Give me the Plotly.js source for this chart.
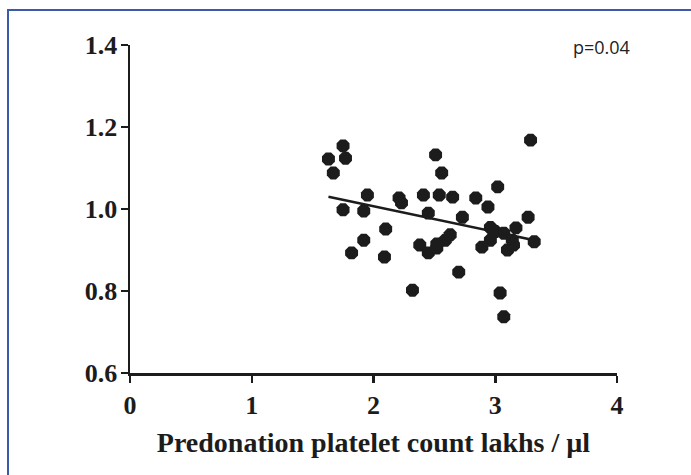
<!DOCTYPE html>
<html>
<head>
<meta charset="utf-8">
<script src="https://cdn.plot.ly/plotly-3.0.1.min.js"></script>
<style>
  body { margin: 0; background: #fff; }
  #wrap { position: relative; width: 691px; height: 475px; }
  #chart { position: absolute; left: 0; top: 0; width: 691px; height: 475px; }
  #frame { position: absolute; left: 7px; top: 9px; width: 684px; height: 466px;
           border-left: 2px solid #3b5ba9; border-top: 2px solid #3b5ba9; pointer-events: none; }
</style>
</head>
<body>
<div id="wrap"><div id="chart"></div><div id="frame"></div></div>
<script>
// Predonation platelet count (lakhs / µl)
var plateletX = [1.63, 1.67, 1.75, 1.77, 1.75, 1.82, 1.92, 1.92, 1.95, 2.09,
                 2.10, 2.21, 2.23, 2.32, 2.38, 2.41, 2.45, 2.45, 2.52, 2.51,
                 2.54, 2.56, 2.59, 2.65, 2.63, 2.70, 2.73, 2.84, 2.89, 2.94,
                 2.96, 3.02, 3.04, 2.96, 3.07, 3.07, 3.10, 3.14, 3.17, 3.15,
                 3.27, 3.29, 3.32, 2.52, 3.00];
var ratioY    = [1.122, 1.088, 1.154, 1.124, 0.998, 0.893, 0.924, 0.995, 1.034, 0.883,
                 0.951, 1.027, 1.015, 0.802, 0.912, 1.034, 0.990, 0.893, 0.915, 1.132,
                 1.034, 1.088, 0.924, 1.029, 0.937, 0.846, 0.980, 1.027, 0.907, 1.005,
                 0.924, 1.054, 0.795, 0.955, 0.941, 0.737, 0.900, 0.924, 0.954, 0.912,
                 0.980, 1.168, 0.920, 0.905, 0.945];
// Regression line end points
var fitX = [1.63, 3.32];
var fitY = [1.030, 0.924];
var xTicks = [0, 1, 2, 3, 4];
var yTicks = [0.6, 0.8, 1.0, 1.2, 1.4];
var yTickText = ["0.6", "0.8", "1.0", "1.2", "1.4"];
var pText = "p=0.04";
var xTitle = "Predonation platelet count lakhs / µl";

var serifBold = "'Liberation Serif', 'Times New Roman', serif";

var traces = [
  { x: plateletX, y: ratioY, type: "scatter", mode: "markers",
    marker: { symbol: "octagon", size: 14, color: "#1c1c1c", line: { width: 0 } },
    hoverinfo: "x+y" },
  { x: fitX, y: fitY, type: "scatter", mode: "lines",
    line: { color: "#1c1c1c", width: 2.5 }, hoverinfo: "skip" }
];

var layout = {
  width: 691, height: 475,
  margin: { l: 130, r: 74, t: 45, b: 102 },
  paper_bgcolor: "#ffffff", plot_bgcolor: "#ffffff",
  showlegend: false,
  xaxis: {
    range: [0, 4], tickvals: xTicks, ticktext: xTicks.map(String),
    showgrid: false, zeroline: false, showline: true, linecolor: "#1c1c1c", linewidth: 2.5,
    ticks: "outside", ticklen: 7, tickwidth: 2.5, tickcolor: "#1c1c1c",
    ticklabelstandoff: 0,
    tickfont: { family: serifBold, size: 26, color: "#1c1c1c", weight: "bold" },
    title: { text: "<b>" + xTitle + "</b>", standoff: 14,
             font: { family: serifBold, size: 28, color: "#1c1c1c" } },
    automargin: false, fixedrange: true
  },
  yaxis: {
    range: [0.6, 1.4], tickvals: yTicks, ticktext: yTickText,
    showgrid: false, zeroline: false, showline: true, linecolor: "#1c1c1c", linewidth: 2.5,
    ticks: "outside", ticklen: 7, tickwidth: 2.5, tickcolor: "#1c1c1c",
    ticklabelstandoff: -2,
    tickfont: { family: serifBold, size: 26, color: "#1c1c1c", weight: "bold" },
    automargin: false, fixedrange: true
  },
  annotations: [{
    text: pText, xref: "paper", yref: "paper", x: 1.03, y: 0.995,
    xanchor: "right", yanchor: "middle", showarrow: false,
    font: { family: "'Open Sans', 'Liberation Sans', sans-serif", size: 18, color: "#222" }
  }]
};

Plotly.newPlot("chart", traces, layout, { displayModeBar: false, staticPlot: true });
</script>
</body>
</html>
